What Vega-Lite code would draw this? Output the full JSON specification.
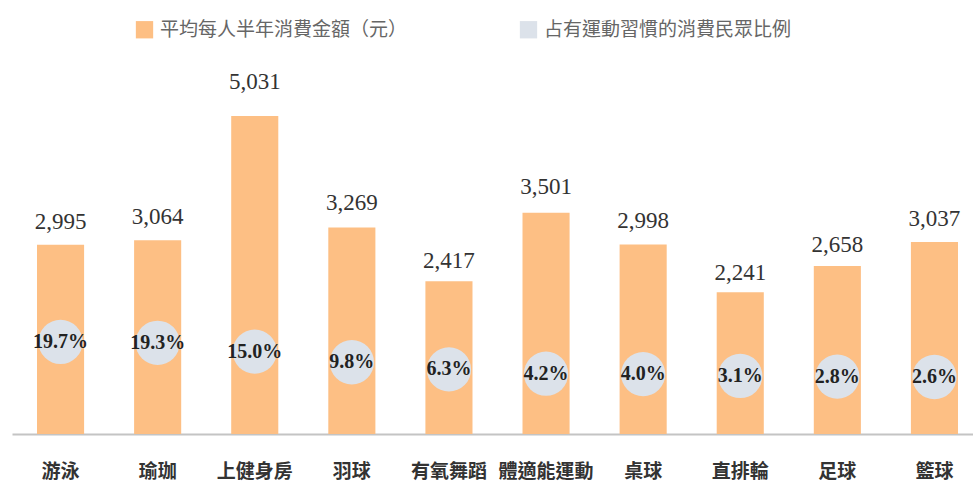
{
  "$schema": "https://vega.github.io/schema/vega-lite/v6.json",
  "width": 973,
  "height": 434,
  "autosize": "none",
  "padding": {"left": 0, "top": 0, "right": 0, "bottom": 49},
  "background": "white",
  "config": {"view": {"stroke": null}, "font": "Noto Sans CJK TC"},
  "data": {
    "values": [
      {"cat": "游泳", "amount": 2995, "pct": 0.197},
      {"cat": "瑜珈", "amount": 3064, "pct": 0.193},
      {"cat": "上健身房", "amount": 5031, "pct": 0.150},
      {"cat": "羽球", "amount": 3269, "pct": 0.098},
      {"cat": "有氧舞蹈", "amount": 2417, "pct": 0.063},
      {"cat": "體適能運動", "amount": 3501, "pct": 0.042},
      {"cat": "桌球", "amount": 2998, "pct": 0.040},
      {"cat": "直排輪", "amount": 2241, "pct": 0.031},
      {"cat": "足球", "amount": 2658, "pct": 0.028},
      {"cat": "籃球", "amount": 3037, "pct": 0.026}
    ]
  },
  "encoding": {
    "x": {
      "field": "cat",
      "type": "nominal",
      "sort": null,
      "scale": {"range": [12, 983], "paddingInner": 0.515, "paddingOuter": 0.2575},
      "axis": {
        "title": null,
        "labelAngle": 0,
        "labelFontSize": 19,
        "labelFontWeight": "bold",
        "labelColor": "#333333",
        "labelFont": "Noto Sans CJK TC",
        "labelOverlap": false,
        "ticks": false,
        "domainColor": "#C4C4C4",
        "domainWidth": 2,
        "labelPadding": 28
      }
    }
  },
  "layer": [
    {
      "mark": {"type": "bar"},
      "encoding": {
        "y": {"field": "amount", "type": "quantitative", "scale": {"domain": [0, 6867], "nice": false}, "axis": null},
        "color": {
          "datum": "平均每人半年消費金額（元）",
          "type": "nominal",
          "scale": {
            "domain": ["平均每人半年消費金額（元）", "占有運動習慣的消費民眾比例"],
            "range": ["#FDBF84", "#DCE2EA"]
          },
          "legend": {
            "title": null,
            "orient": "none",
            "legendX": 135,
            "legendY": 20,
            "direction": "horizontal",
            "symbolType": "square",
            "symbolSize": 300,
            "symbolStrokeWidth": 0,
            "labelFontSize": 19,
            "labelColor": "#666666",
            "labelFont": "Noto Sans CJK TC",
            "labelLimit": 400,
            "columnPadding": 111,
            "labelOffset": 6
          }
        }
      }
    },
    {
      "mark": {"type": "text", "font": "Liberation Serif", "fontSize": 23, "color": "#333333", "baseline": "alphabetic"},
      "encoding": {
        "y": {"field": "amount", "type": "quantitative", "scale": {"domain": [0, 6330], "nice": false}, "axis": null},
        "text": {"field": "amount", "type": "quantitative", "format": ","}
      }
    },
    {
      "mark": {"type": "circle", "size": 1960, "opacity": 1},
      "encoding": {
        "y": {"field": "pct", "type": "quantitative", "scale": {"domain": [-0.252, 1.865], "nice": false, "zero": false}, "axis": null},
        "color": {"datum": "占有運動習慣的消費民眾比例", "type": "nominal"}
      }
    },
    {
      "mark": {"type": "text", "font": "Liberation Serif", "fontWeight": "bold", "fontSize": 20, "color": "#222222", "baseline": "middle"},
      "encoding": {
        "y": {"field": "pct", "type": "quantitative", "scale": {"domain": [-0.252, 1.865], "nice": false, "zero": false}, "axis": null},
        "text": {"field": "pct", "type": "quantitative", "format": ".1%"}
      }
    }
  ],
  "resolve": {"scale": {"y": "independent"}}
}
